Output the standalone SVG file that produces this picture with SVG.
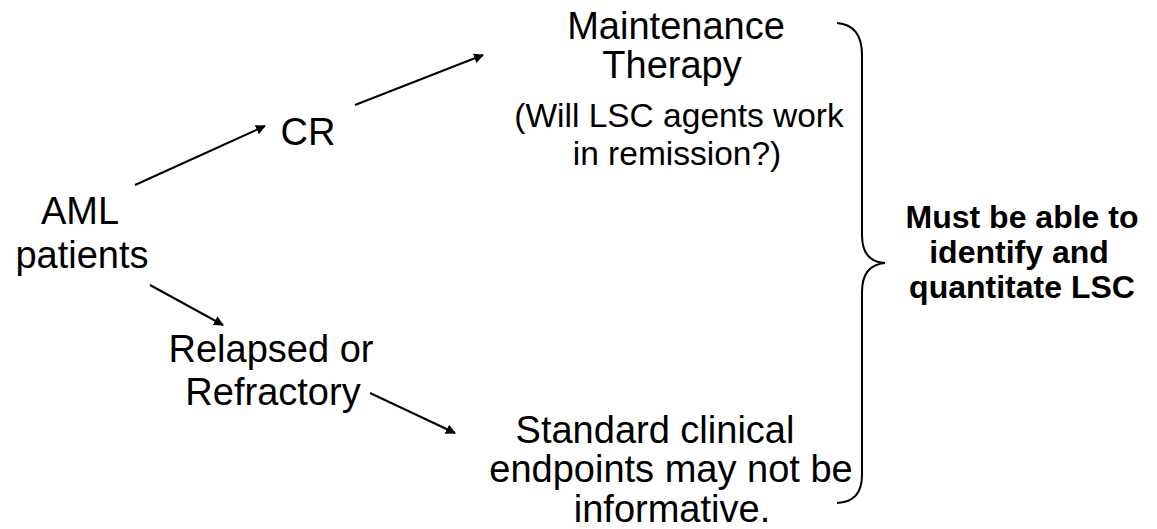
<svg xmlns="http://www.w3.org/2000/svg" width="1157" height="529" viewBox="0 0 1157 529">
<defs>
<style>
text{font-family:"Liberation Sans",Arial,sans-serif;fill:#000;text-anchor:middle}
.t{font-size:38px}
.s{font-size:33.5px}
.b{font-size:32px;font-weight:bold}
.c{stroke:#000;stroke-width:2;fill:none}
</style>
<marker id="ah" viewBox="0 0 10 10" refX="9" refY="5" markerWidth="5" markerHeight="5" orient="auto" markerUnits="strokeWidth">
<path d="M0,0 L10,5 L0,10 z" fill="#000"/>
</marker>
</defs>
<rect width="1157" height="529" fill="#fff"/>
<g id="aml"><text class="t" x="80" y="224">AML</text><text class="t" x="82" y="268">patients</text></g>
<g id="cr"><text class="t" x="308" y="145">CR</text></g>
<g id="maint"><text class="t" x="676" y="39">Maintenance</text><text class="t" x="672" y="78">Therapy</text>
<text class="s" x="679" y="127">(Will LSC agents work</text><text class="s" x="677" y="165">in remission?)</text></g>
<g id="relapsed"><text class="t" x="271" y="362">Relapsed or</text><text class="t" x="273" y="405">Refractory</text></g>
<g id="standard"><text class="t" x="655" y="443">Standard clinical</text><text class="t" x="671" y="482">endpoints may not be</text><text class="t" x="672" y="522">informative.</text></g>
<g id="must"><text class="b" x="1022" y="228">Must be able to</text><text class="b" x="1019" y="263">identify and</text><text class="b" x="1022" y="298">quantitate LSC</text></g>
<g id="connectors">
<line class="c" x1="135" y1="185" x2="265" y2="126" marker-end="url(#ah)"/>
<line class="c" x1="355" y1="105" x2="483" y2="55" marker-end="url(#ah)"/>
<line class="c" x1="150" y1="285" x2="223" y2="325" marker-end="url(#ah)"/>
<line class="c" x1="370" y1="393" x2="455" y2="433" marker-end="url(#ah)"/>
<path class="c" d="M837 23 Q862 25 862 55 L862 235 Q862 262 885 263 Q862 265 862 292 L862 475 Q862 502 837 503"/>
</g>
</svg>
